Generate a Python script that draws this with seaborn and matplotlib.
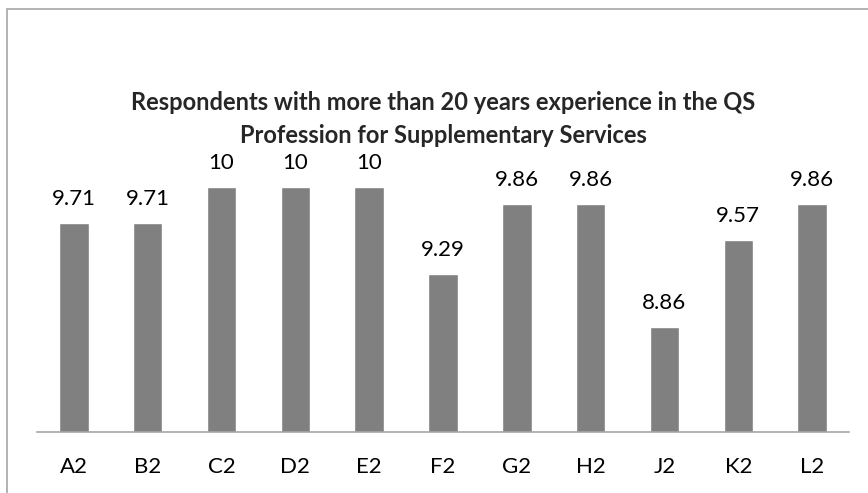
import matplotlib
matplotlib.use("Agg")
import matplotlib.pyplot as plt
import seaborn as sns
import pandas as pd
from matplotlib.patches import Rectangle

# Data
categories = ['A2', 'B2', 'C2', 'D2', 'E2', 'F2', 'G2', 'H2', 'J2', 'K2', 'L2']
values = [9.71, 9.71, 10, 10, 10, 9.29, 9.86, 9.86, 8.86, 9.57, 9.86]
labels = ['9.71', '9.71', '10', '10', '10', '9.29', '9.86', '9.86', '8.86', '9.57', '9.86']
title = 'Respondents with more than 20 years experience in the QS\nProfession for Supplementary Services'

df = pd.DataFrame({'Category': categories, 'Value': values})

sns.set_style('white')
plt.rcParams['font.family'] = ['Lato', 'DejaVu Sans']

fig = plt.figure(figsize=(8.68, 4.93), dpi=100)
ax = fig.add_axes([37 / 868, 1 - 432 / 493, (849 - 37) / 868, 306 / 493])

sns.barplot(data=df, x='Category', y='Value', color='#808080', saturation=1,
            width=0.4, ax=ax)

ax.set_ylim(8, 10.5)
ax.set_xlim(-0.5, len(categories) - 0.5)
for bar, lab in zip(ax.patches, labels):
    ax.annotate(lab, (bar.get_x() + bar.get_width() / 2, bar.get_height()),
                xytext=(0, 10), textcoords='offset points', ha='center', va='bottom',
                fontsize=16, color='#000000')

for side in ['top', 'right', 'left']:
    ax.spines[side].set_visible(False)
ax.spines['bottom'].set_color('#a6a6a6')
ax.spines['bottom'].set_linewidth(1.2)
ax.set_yticks([])
ax.set_xlabel('')
ax.set_ylabel('')
ax.tick_params(axis='x', length=0, pad=18, labelsize=16, colors='#000000')

fig.text(443 / 868, 1 - 119 / 493, title, ha='center', va='center',
         fontsize=17, fontweight='bold', linespacing=1.5)

# chart border
fig.patches.append(Rectangle((7 / 868, -0.1), 1.2, 1 - 9 / 493 + 0.1,
                             transform=fig.transFigure, fill=False,
                             edgecolor='#a6a6a6', linewidth=1.2))

fig.savefig('out.png', dpi=100)
